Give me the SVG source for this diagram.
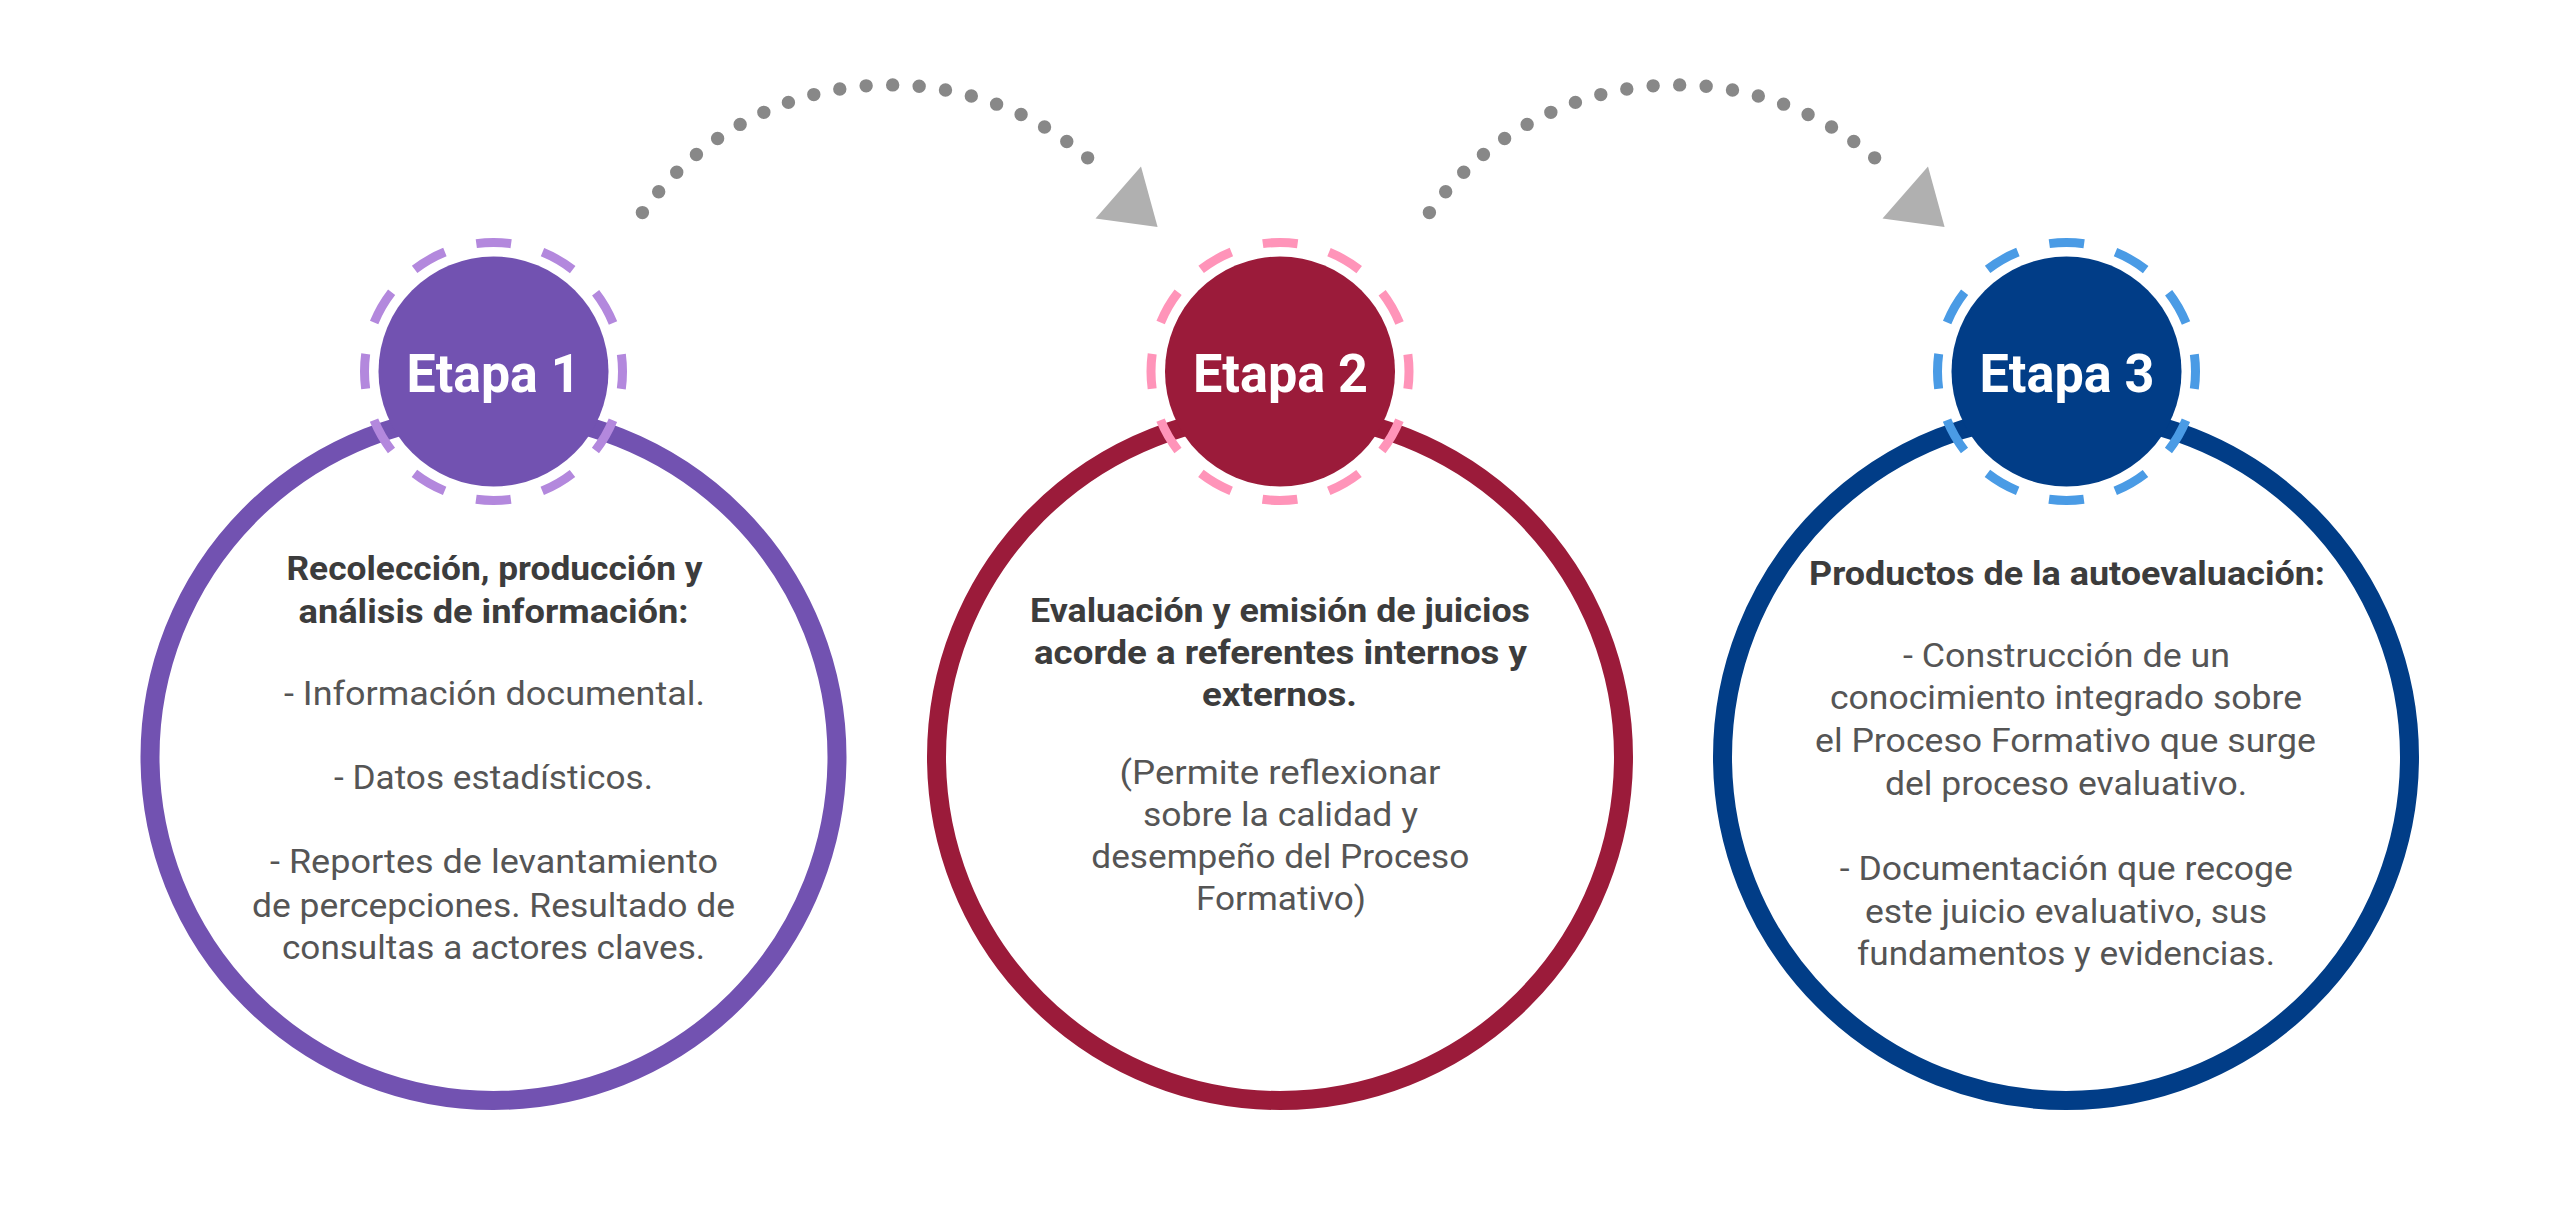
<svg xmlns="http://www.w3.org/2000/svg" width="2560" height="1228" viewBox="0 0 2560 1228">
  <style>
    .ring { fill: none; stroke-width: 19; }
    .dash { fill: none; stroke-width: 9; stroke-dasharray: 35 32.54; stroke-dashoffset: 17.5; }
    .label { font-family: Roboto, "Liberation Sans", sans-serif; font-weight: 700; font-size: 54px; fill: #ffffff; text-anchor: middle; }
    .bold { font-family: Roboto, "Liberation Sans", sans-serif; font-weight: 700; font-size: 34px; fill: #3c3c3c; text-anchor: middle; }
    .reg { font-family: Roboto, "Liberation Sans", sans-serif; font-weight: 400; font-size: 34px; fill: #555555; text-anchor: middle; }
    .dots { fill: none; stroke: #888888; stroke-width: 13.4; stroke-linecap: round; stroke-dasharray: 0 26.54; }
    .head { fill: #b0b0b0; }
  </style>

  <g id="connectors">
    <path class="dots" d="M642.4,212.6 A304,304 0 0,1 1106.1,175"/>
    <polygon class="head" points="1141,166.4 1095.5,218.5 1157.6,227"/>
    <path class="dots" d="M1429.4,212.6 A304,304 0 0,1 1893.1,175"/>
    <polygon class="head" points="1928,166.4 1882.5,218.5 1944.6,227"/>
  </g>

  <g id="etapa1">
    <circle class="ring" cx="493.5" cy="757" r="343.5" stroke="#7252b1"/>
    <circle cx="493.5" cy="371.5" r="115" fill="#7252b1"/>
    <circle class="dash" cx="493.5" cy="371.5" r="129" stroke="#b388dd"/>
    <text class="label" x="493.5" y="391.5" textLength="174" lengthAdjust="spacingAndGlyphs">Etapa 1</text>
    <text class="bold" x="494.5" y="580" textLength="416" lengthAdjust="spacingAndGlyphs">Recolección, producción y</text>
    <text class="bold" x="493.5" y="622.7" textLength="390" lengthAdjust="spacingAndGlyphs">análisis de información:</text>
    <text class="reg" x="494.5" y="705" textLength="421" lengthAdjust="spacingAndGlyphs">- Información documental.</text>
    <text class="reg" x="493.5" y="789.3" textLength="319" lengthAdjust="spacingAndGlyphs">- Datos estadísticos.</text>
    <text class="reg" x="494" y="873.3" textLength="448" lengthAdjust="spacingAndGlyphs">- Reportes de levantamiento</text>
    <text class="reg" x="493.5" y="916.7" textLength="483" lengthAdjust="spacingAndGlyphs">de percepciones. Resultado de</text>
    <text class="reg" x="493.5" y="959.3" textLength="423" lengthAdjust="spacingAndGlyphs">consultas a actores claves.</text>
  </g>

  <g id="etapa2">
    <circle class="ring" cx="1280" cy="757" r="343.5" stroke="#9b1b3a"/>
    <circle cx="1280" cy="371.5" r="115" fill="#9b1b3a"/>
    <circle class="dash" cx="1280" cy="371.5" r="129" stroke="#ff94b9"/>
    <text class="label" x="1280.5" y="391.5" textLength="175" lengthAdjust="spacingAndGlyphs">Etapa 2</text>
    <text class="bold" x="1280" y="622" textLength="500" lengthAdjust="spacingAndGlyphs">Evaluación y emisión de juicios</text>
    <text class="bold" x="1280.5" y="664" textLength="493" lengthAdjust="spacingAndGlyphs">acorde a referentes internos y</text>
    <text class="bold" x="1279.5" y="706" textLength="155" lengthAdjust="spacingAndGlyphs">externos.</text>
    <text class="reg" x="1280" y="784" textLength="321" lengthAdjust="spacingAndGlyphs">(Permite reflexionar</text>
    <text class="reg" x="1280.5" y="826" textLength="275" lengthAdjust="spacingAndGlyphs">sobre la calidad y</text>
    <text class="reg" x="1280.3" y="868" textLength="378" lengthAdjust="spacingAndGlyphs">desempeño del Proceso</text>
    <text class="reg" x="1281" y="910" textLength="170" lengthAdjust="spacingAndGlyphs">Formativo)</text>
  </g>

  <g id="etapa3">
    <circle class="ring" cx="2066" cy="757" r="343.5" stroke="#013d87"/>
    <circle cx="2066.5" cy="371.5" r="115" fill="#013d87"/>
    <circle class="dash" cx="2066.5" cy="371.5" r="129" stroke="#4a9be5"/>
    <text class="label" x="2067" y="391.5" textLength="175" lengthAdjust="spacingAndGlyphs">Etapa 3</text>
    <text class="bold" x="2067" y="585" textLength="516" lengthAdjust="spacingAndGlyphs">Productos de la autoevaluación:</text>
    <text class="reg" x="2066.5" y="666.7" textLength="327" lengthAdjust="spacingAndGlyphs">- Construcción de un</text>
    <text class="reg" x="2066" y="709.3" textLength="472" lengthAdjust="spacingAndGlyphs">conocimiento integrado sobre</text>
    <text class="reg" x="2065.5" y="752.3" textLength="501" lengthAdjust="spacingAndGlyphs">el Proceso Formativo que surge</text>
    <text class="reg" x="2066" y="795" textLength="362" lengthAdjust="spacingAndGlyphs">del proceso evaluativo.</text>
    <text class="reg" x="2066.3" y="880" textLength="453" lengthAdjust="spacingAndGlyphs">- Documentación que recoge</text>
    <text class="reg" x="2066" y="922.7" textLength="402" lengthAdjust="spacingAndGlyphs">este juicio evaluativo, sus</text>
    <text class="reg" x="2066" y="965" textLength="418" lengthAdjust="spacingAndGlyphs">fundamentos y evidencias.</text>
  </g>
</svg>
